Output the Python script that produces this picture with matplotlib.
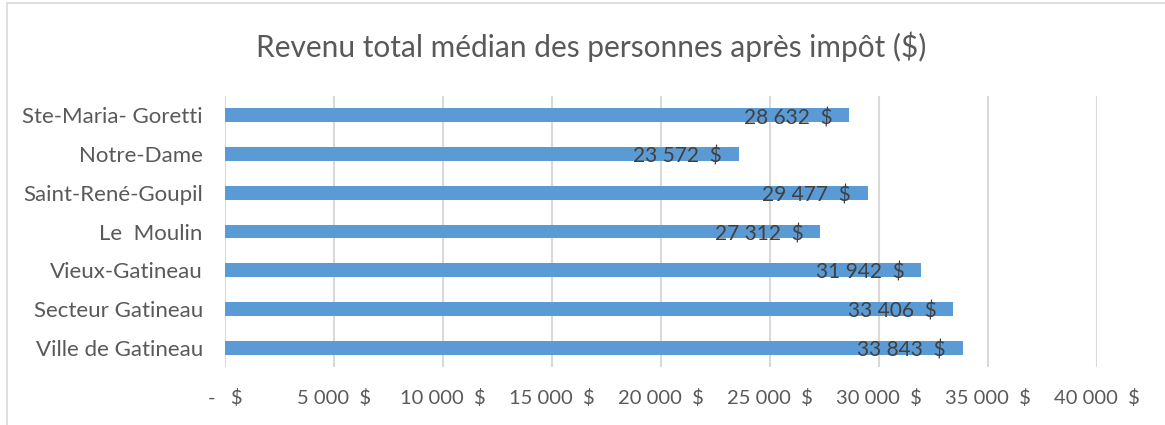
import matplotlib
matplotlib.use("Agg")
import matplotlib.pyplot as plt
from matplotlib.patches import Rectangle

categories = ["Ville de Gatineau", "Secteur Gatineau", "Vieux-Gatineau", "Le  Moulin",
              "Saint-René-Goupil", "Notre-Dame", "Ste-Maria- Goretti"]
values = [33843, 33406, 31942, 27312, 29477, 23572, 28632]
tick_values = [0, 5000, 10000, 15000, 20000, 25000, 30000, 35000, 40000]
tick_labels = ["-   $", "5 000  $", "10 000  $", "15 000  $", "20 000  $", "25 000  $",
               "30 000  $", "35 000  $", "40 000  $"]
title = "Revenu total médian des personnes après impôt ($)"

plt.rcParams['font.family'] = ['Lato', 'DejaVu Sans']

fig = plt.figure(figsize=(11.65, 4.25), dpi=100)
fig.patches.append(Rectangle((7/1165, -0.1), 2.0, (425-3)/425 + 0.1, transform=fig.transFigure,
                             fill=False, edgecolor="#d9d9d9", linewidth=1.2))
ax = fig.add_axes([225/1165, (425-367)/425, (1097-225)/1165, (367-96)/425])

ypos = list(range(len(categories)))
ax.barh(ypos, values, height=0.36, color="#5b9bd5", zorder=3)
ax.set_xlim(0, 40000)
ax.set_ylim(-0.5, len(categories) - 0.5)
ax.set_xticks(tick_values)
ax.set_xticklabels(tick_labels, fontsize=14.5, color="#595959")
ax.set_yticks(ypos)
ax.set_yticklabels(categories, fontsize=16, color="#595959")
ax.tick_params(length=0)
ax.tick_params(axis='x', pad=16)
ax.tick_params(axis='y', pad=16)
for s in ax.spines.values():
    s.set_visible(False)
ax.grid(axis='x', color="#d9d9d9", linewidth=1.5, zorder=0)

for y, v in zip(ypos, values):
    lab = f"{v:,}".replace(",", " ") + "  $"
    ax.annotate(lab, (v, y), xytext=(-12, -2), textcoords="offset points",
                ha="right", va="center", fontsize=15, color="#404040", zorder=4)

fig.text(591/1165, 1 - 47/425, title, ha="center", va="center", fontsize=21.5, color="#595959")

fig.savefig("out.png", dpi=100)
